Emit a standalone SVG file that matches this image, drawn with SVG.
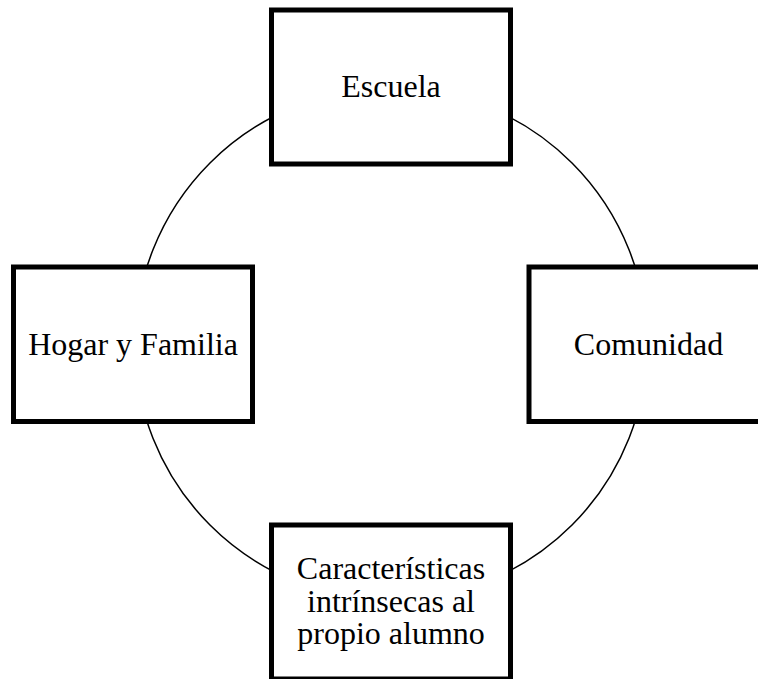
<svg xmlns="http://www.w3.org/2000/svg" width="758" height="679" viewBox="0 0 758 679">
<style>
.box{fill:#fff;stroke:#000;stroke-width:5}
.lbl{font-family:"Liberation Serif","Times New Roman",serif;font-size:32px;fill:#000;text-anchor:middle}
</style>
<rect width="758" height="679" fill="#fff"/>
<g id="connectors">
<circle cx="391" cy="344" r="256" fill="none" stroke="#000" stroke-width="1.5"/>
</g>
<g id="escuela">
<rect class="box" x="271.5" y="10" width="239" height="154"/>
<text class="lbl" x="391" y="97">Escuela</text>
</g>
<g id="hogar">
<rect class="box" x="13.5" y="267" width="239" height="154.5"/>
<text class="lbl" x="133" y="355">Hogar y Familia</text>
</g>
<g id="comunidad">
<rect class="box" x="529" y="267" width="239" height="154.5"/>
<text class="lbl" x="648.5" y="355">Comunidad</text>
</g>
<g id="caracteristicas">
<rect class="box" x="271.5" y="525" width="239" height="154"/>
<text class="lbl" x="391" y="579">Características</text>
<text class="lbl" x="391" y="611.5">intrínsecas al</text>
<text class="lbl" x="391" y="644">propio alumno</text>
</g>
</svg>
